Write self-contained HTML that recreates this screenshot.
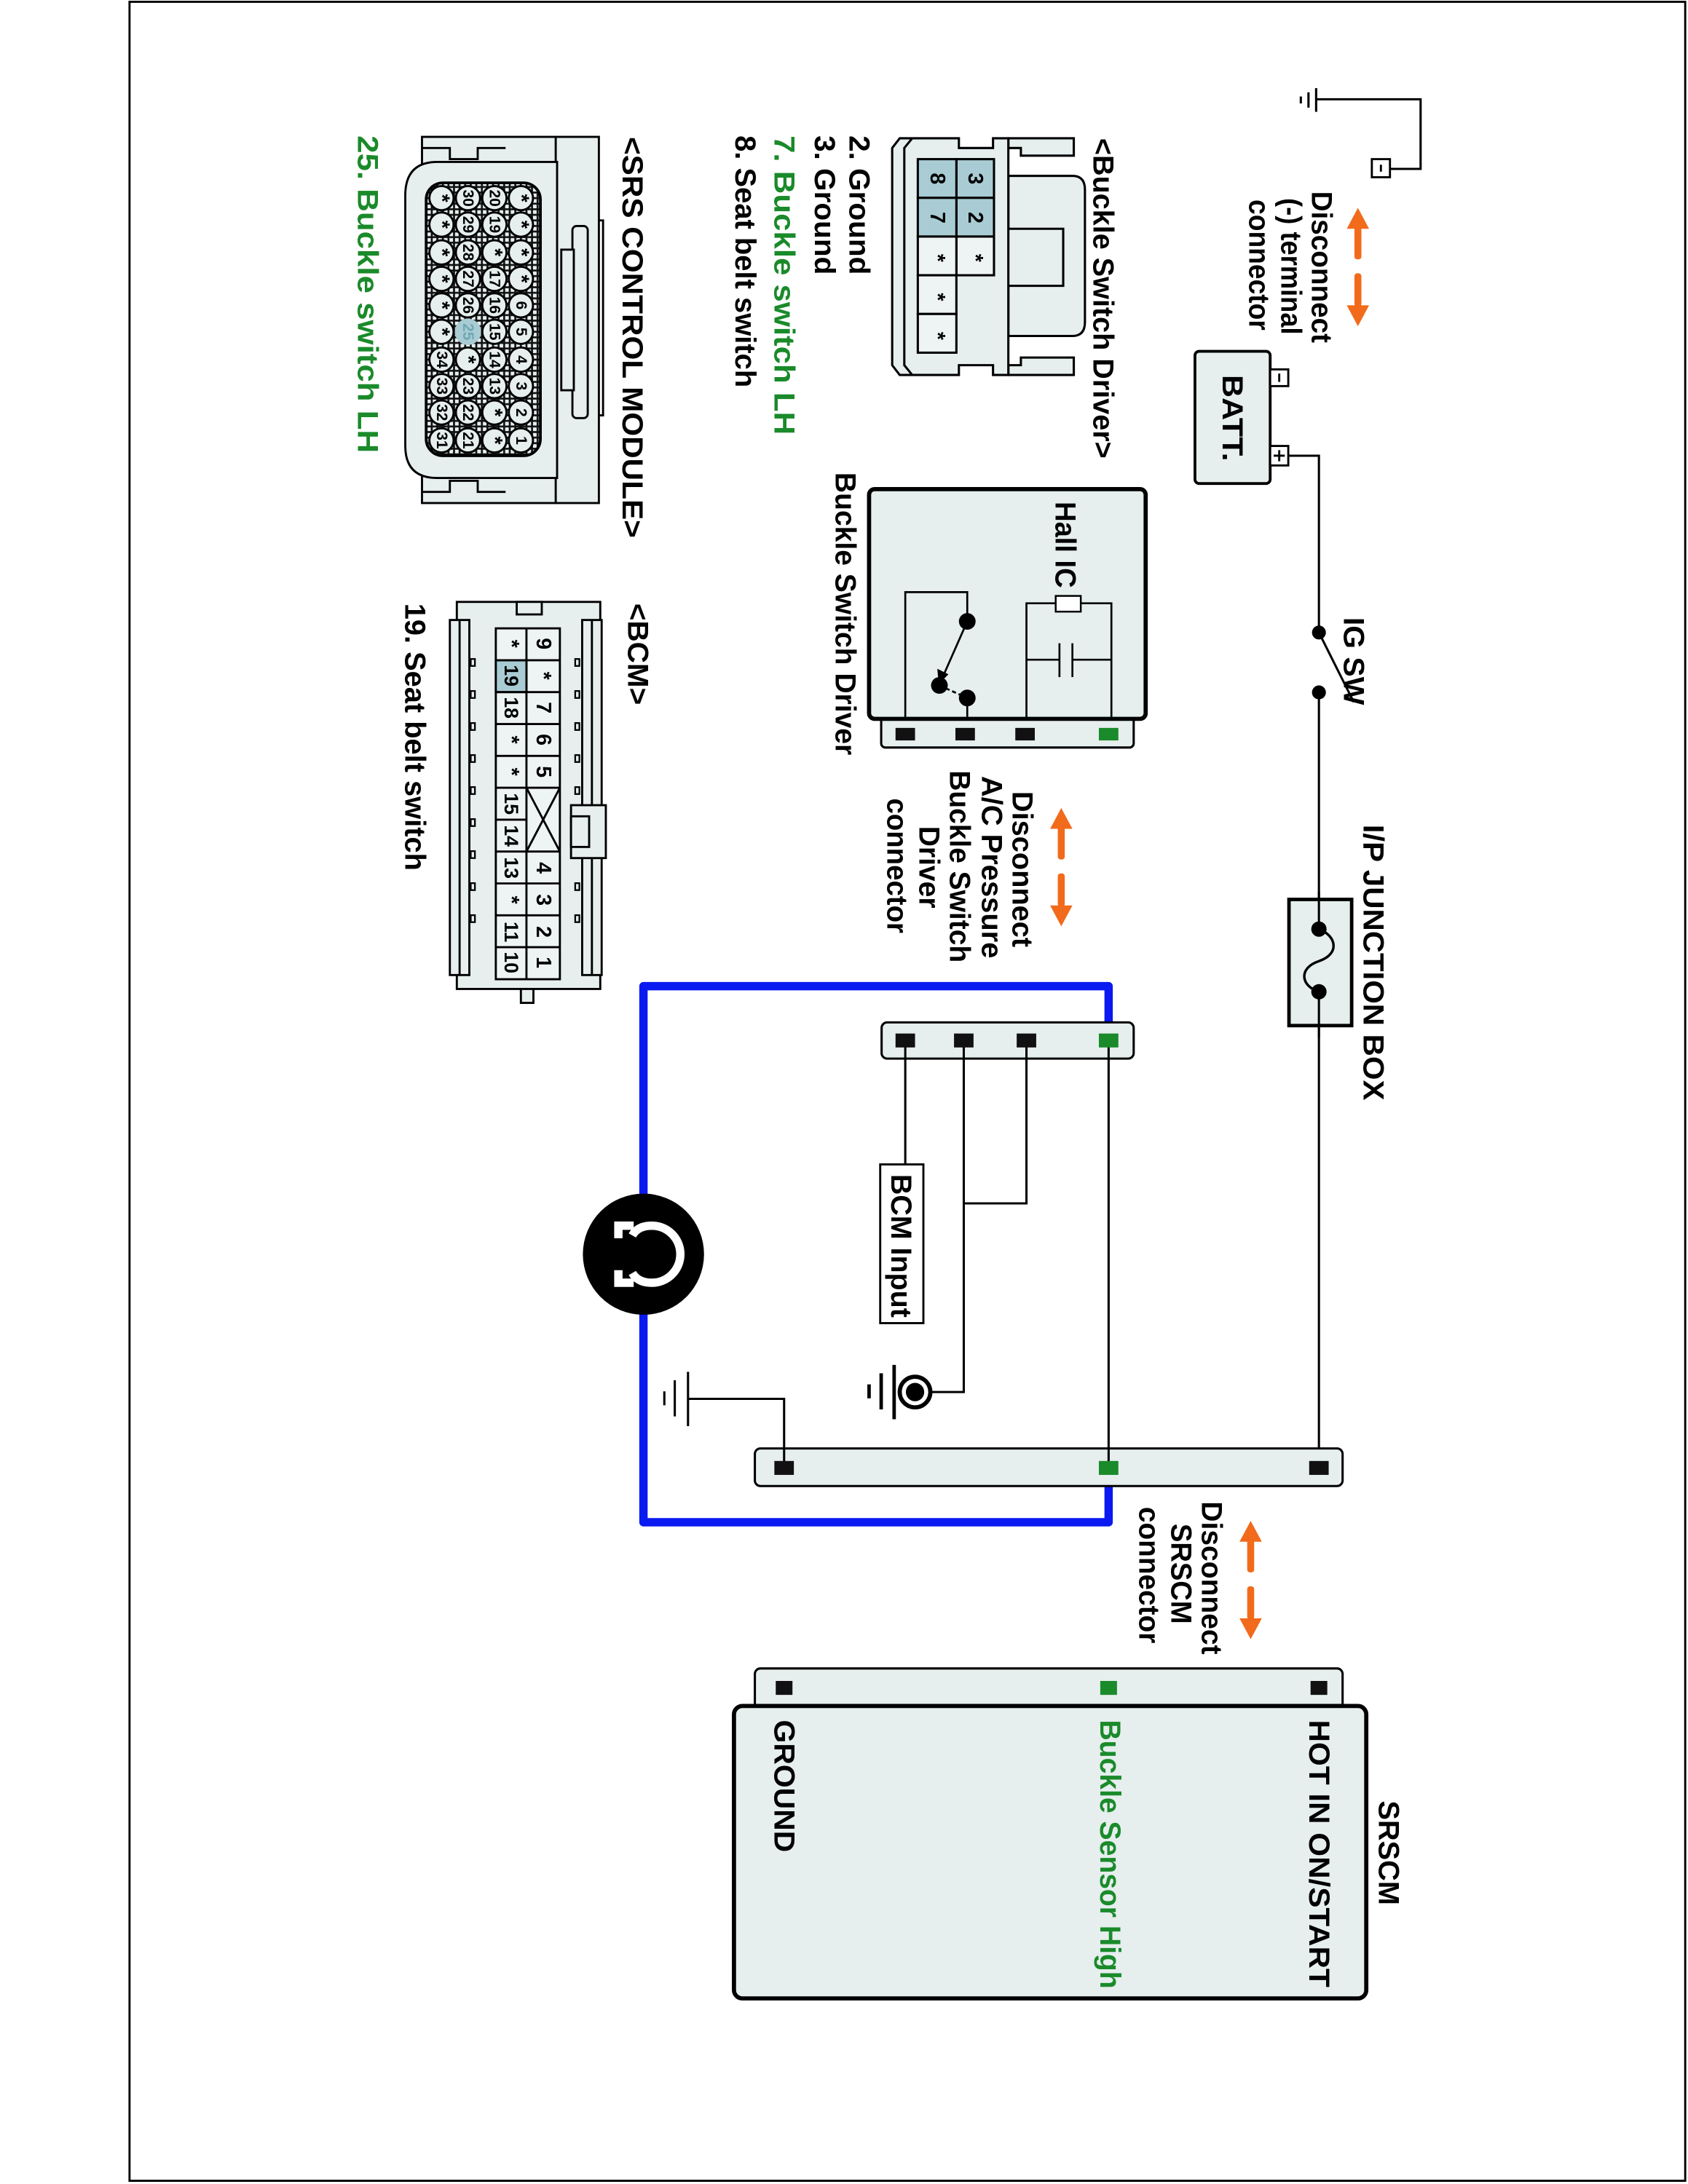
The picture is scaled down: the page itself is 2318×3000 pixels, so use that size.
<!DOCTYPE html>
<html><head><meta charset="utf-8"><style>html,body{margin:0;padding:0;background:#fff}svg{display:block}</style></head>
<body>
<svg xmlns="http://www.w3.org/2000/svg" width="2318" height="3000" viewBox="0 0 1212 1568" font-family="Liberation Sans, Arial, sans-serif" font-weight="bold">
<defs>
<pattern id="hatch" width="4" height="4" patternUnits="userSpaceOnUse">
<rect width="4" height="4" fill="#e6eeee"/>
<path d="M0 2H4M2 0V4" stroke="#111" stroke-width="1.4"/>
</pattern>
</defs>
<rect x="0" y="0" width="1212" height="1568" fill="#fff"/>
<rect x="93" y="1" width="1117" height="1565" fill="none" stroke="#000" stroke-width="1.5"/>

<g stroke="#000" stroke-width="1.6" fill="none">
<line x1="945" y1="63" x2="945" y2="80"/>
<line x1="939.5" y1="66" x2="939.5" y2="77"/>
<line x1="934" y1="69" x2="934" y2="74"/>
<polyline points="945,71 1020,71 1020,121 998,121"/>
</g>
<rect x="985" y="114" width="13" height="13" fill="#fff" stroke="#000" stroke-width="1.5"/>
<line x1="991.5" y1="118" x2="991.5" y2="123" stroke="#000" stroke-width="1.5"/>

<rect x="858" y="252" width="54" height="95" rx="3" fill="#e6eeee" stroke="#000" stroke-width="2"/>
<rect x="912" y="265" width="13" height="12" fill="#fff" stroke="#000" stroke-width="1.5"/>
<line x1="918.5" y1="268" x2="918.5" y2="274" stroke="#000" stroke-width="1.5"/>
<rect x="912" y="320" width="13" height="14" fill="#fff" stroke="#000" stroke-width="1.5"/>
<path d="M918.5 323v8M914.5 327h8" stroke="#000" stroke-width="1.5"/>

<g stroke="#000" stroke-width="1.6" fill="none">
<polyline points="925,327 947,327 947,454"/>
<line x1="947" y1="454" x2="972" y2="504"/>
<line x1="947" y1="497" x2="947" y2="1054"/>
</g>
<circle cx="947" cy="454" r="5" fill="#000"/>
<circle cx="947" cy="497" r="5" fill="#000"/>

<rect x="925.5" y="645.7" width="45" height="90.6" fill="#e6eeee" stroke="#000" stroke-width="2.5"/>
<line x1="947" y1="640" x2="947" y2="745" stroke="#000" stroke-width="1.6"/>
<rect x="944" y="668" width="6" height="43" fill="#e6eeee"/>
<path d="M947 667 C960 672 962 685 947 690 C932 695 934 708 947 712" stroke="#000" stroke-width="1.8" fill="none"/>
<circle cx="947" cy="667" r="5.5" fill="#000"/>
<circle cx="947" cy="712" r="5.5" fill="#000"/>

<rect x="632.7" y="508" width="181.3" height="28.6" rx="3" fill="#e6eeee" stroke="#000" stroke-width="1.6"/>
<rect x="624" y="351" width="198.6" height="165" rx="4" fill="#e6eeee" stroke="#000" stroke-width="3"/>
<g fill="#111"><rect x="643" y="522.5" width="14" height="9"/><rect x="686" y="522.5" width="14" height="9"/><rect x="729" y="522.5" width="14" height="9"/></g>
<rect x="789" y="522.5" width="14" height="9" fill="#1a8a2a"/>
<g stroke="#000" stroke-width="1.4" fill="none">
<polyline points="650,516 650,425 694.5,425 694.5,446"/>
<line x1="694.5" y1="501" x2="694.5" y2="516"/>
<line x1="694.5" y1="446" x2="676" y2="488"/>
<line x1="674.5" y1="492" x2="694.5" y2="501" stroke-dasharray="3,2"/>
<polyline points="737,516 737,433 758,433"/>
<polyline points="776,433 798,433 798,516"/>
<line x1="737" y1="473.5" x2="760.7" y2="473.5"/>
<line x1="770" y1="473.5" x2="798" y2="473.5"/>
<line x1="760.7" y1="461.7" x2="760.7" y2="486"/>
<line x1="770" y1="461.7" x2="770" y2="486"/>
</g>
<polygon points="674,491 673,480 681,484" fill="#000"/>
<circle cx="694.5" cy="446" r="6" fill="#000"/>
<circle cx="674.5" cy="492" r="6" fill="#000"/>
<circle cx="694.5" cy="501" r="6" fill="#000"/>
<rect x="758" y="427.7" width="18" height="11.3" fill="#fff" stroke="#000" stroke-width="1.3"/>

<path d="M796 750 V708 H462 V1093 H796 V1056" stroke="#0a1af0" stroke-width="6" fill="none" stroke-linejoin="round"/>
<rect x="633" y="734" width="181" height="26" rx="4" fill="#e6eeee" stroke="#000" stroke-width="1.6"/>
<rect x="542" y="1040" width="422" height="27" rx="4" fill="#e6eeee" stroke="#000" stroke-width="1.6"/>
<g stroke="#000" stroke-width="1.6" fill="none">
<line x1="796" y1="747" x2="796" y2="1054"/>
<polyline points="737,747 737,864 692,864"/>
<polyline points="692,747 692,999.5 669,999.5"/>
<polyline points="650,747 650,836"/>
<polyline points="563,1054 563,1004.4 494,1004.4"/>
<line x1="494" y1="985" x2="494" y2="1024"/>
<line x1="484.5" y1="991" x2="484.5" y2="1017"/>
<line x1="477" y1="999" x2="477" y2="1009"/>
</g>
<g fill="#111">
<rect x="643" y="742" width="14" height="10"/><rect x="685" y="742" width="14" height="10"/><rect x="730" y="742" width="14" height="10"/>
<rect x="940" y="1049" width="14" height="10"/><rect x="556" y="1049" width="14" height="10"/>
</g>
<rect x="789" y="742" width="14" height="10" fill="#1a8a2a"/>
<rect x="789" y="1049" width="14" height="10" fill="#1a8a2a"/>
<rect x="632" y="836" width="31" height="114" fill="#fff" stroke="#000" stroke-width="1.5"/>
<circle cx="657" cy="999.5" r="11" fill="#fff" stroke="#000" stroke-width="3"/>
<circle cx="657" cy="999.5" r="6.6" fill="#000"/>
<g stroke="#000" stroke-width="2.5">
<line x1="642" y1="980" x2="642" y2="1019"/>
<line x1="632.7" y1="986" x2="632.7" y2="1012"/>
<line x1="624" y1="994" x2="624" y2="1004"/>
</g>
<circle cx="462" cy="900.5" r="43.5" fill="#000"/>
<g fill="none" stroke="#fff" stroke-width="6">
<path d="M454 887 Q458 880 468 880 A20 20 0 0 1 468 921 Q458 921 454 914"/>
<path d="M455 880 H444 V889 M455 921 H444 V912"/>
</g>

<rect x="542" y="1198" width="422" height="30" rx="4" fill="#e6eeee" stroke="#000" stroke-width="1.6"/>
<rect x="527" y="1225" width="454" height="210" rx="6" fill="#e6eeee" stroke="#000" stroke-width="3"/>
<g fill="#111"><rect x="941" y="1207" width="12" height="10"/><rect x="557" y="1207" width="12" height="10"/></g>
<rect x="790" y="1207" width="12" height="10" fill="#1a8a2a"/>

<g fill="#f26a1b">
<polygon points="975,149 967,164 983,164"/><rect x="972.5" y="162" width="5" height="24" rx="2"/><rect x="972.5" y="196" width="5" height="24" rx="2"/><polygon points="975,234 967,219 983,219"/>
<polygon points="762,580 754,595 770,595"/><rect x="759.5" y="593" width="5" height="24" rx="2"/><rect x="759.5" y="627" width="5" height="24" rx="2"/><polygon points="762,665 754,650 770,650"/>
<polygon points="898,1092 890,1107 906,1107"/><rect x="895.5" y="1105" width="5" height="24" rx="2"/><rect x="895.5" y="1139" width="5" height="24" rx="2"/><polygon points="898,1177 890,1162 906,1162"/>
</g>

<g stroke="#000" stroke-width="1.6" fill="#e6eeee">
<path d="M724 99 H771 V111.5 H733 V106 H724 Z"/>
<path d="M724 269 H771 V256.5 H733 V262 H724 Z"/>
<path d="M724 126 H770 Q779 126 779 136 V231 Q779 241 770 241 H724 Z"/>
<path d="M724 164 H763.4 V205 H724"/>
<path d="M646 99 H688.5 V106 H713 V99 H724 V269 H713 V262 H688.5 V269 H646 L640.6 262 V106 Z"/>
<path d="M655 99 L649.3 106 V262 L655 269" fill="none"/>
</g>
<g stroke="#000" stroke-width="1.6">
<rect x="686.7" y="114" width="27" height="27.8" fill="#a9ccd4"/>
<rect x="686.7" y="141.8" width="27" height="27.8" fill="#a9ccd4"/>
<rect x="686.7" y="169.6" width="27" height="27.8" fill="#eef3f3"/>
<rect x="659" y="114" width="27.7" height="27.8" fill="#a9ccd4"/>
<rect x="659" y="141.8" width="27.7" height="27.8" fill="#a9ccd4"/>
<rect x="659" y="169.6" width="27.7" height="27.8" fill="#eef3f3"/>
<rect x="659" y="197.4" width="27.7" height="27.8" fill="#eef3f3"/>
<rect x="659" y="225.2" width="27.7" height="27.8" fill="#eef3f3"/>
</g>
<g font-size="15" text-anchor="middle" dominant-baseline="central" fill="#000">
<text transform="translate(700,128) rotate(90)">3</text>
<text transform="translate(700,156) rotate(90)">2</text>
<text transform="translate(700,185) rotate(90)">*</text>
<text transform="translate(673,128) rotate(90)">8</text>
<text transform="translate(673,156) rotate(90)">7</text>
<text transform="translate(673,185) rotate(90)">*</text>
<text transform="translate(673,213) rotate(90)">*</text>
<text transform="translate(673,241) rotate(90)">*</text>
</g>

<g stroke="#000" stroke-width="1.5" fill="#e6eeee">
<rect x="399" y="98" width="31" height="263"/>
<path d="M430 158 h3 v140 h-3" fill="none"/>
<rect x="303" y="98" width="96" height="263"/>
<path d="M314 116 H400 V343 H314 Q291 343 291 320 V140 Q291 116 314 116 Z"/>
<rect x="411" y="162" width="11" height="138" rx="3"/>
<rect x="403" y="179" width="9" height="101"/>
<rect x="306" y="131" width="82" height="196" rx="12" fill="url(#hatch)" stroke-width="2"/>
<path d="M303 106 h20 v8 h20 v-8 h20 M303 353 h20 v-8 h20 v8 h20" fill="none"/>
</g>
<g stroke="#000" stroke-width="1.5" fill="#e6eeee">
<circle cx="374" cy="142" r="8.7"/><circle cx="374" cy="161" r="8.7"/><circle cx="374" cy="181" r="8.7"/><circle cx="374" cy="200" r="8.7"/><circle cx="374" cy="219" r="8.7"/><circle cx="374" cy="238" r="8.7"/><circle cx="374" cy="258" r="8.7"/><circle cx="374" cy="277" r="8.7"/><circle cx="374" cy="296" r="8.7"/><circle cx="374" cy="316" r="8.7"/>
<circle cx="355" cy="142" r="8.7"/><circle cx="355" cy="161" r="8.7"/><circle cx="355" cy="181" r="8.7"/><circle cx="355" cy="200" r="8.7"/><circle cx="355" cy="219" r="8.7"/><circle cx="355" cy="238" r="8.7"/><circle cx="355" cy="258" r="8.7"/><circle cx="355" cy="277" r="8.7"/><circle cx="355" cy="296" r="8.7"/><circle cx="355" cy="316" r="8.7"/>
<circle cx="336" cy="142" r="8.7"/><circle cx="336" cy="161" r="8.7"/><circle cx="336" cy="181" r="8.7"/><circle cx="336" cy="200" r="8.7"/><circle cx="336" cy="219" r="8.7"/><circle cx="336" cy="238" r="8.7" fill="#a9ccd4" stroke="#a9ccd4"/><circle cx="336" cy="258" r="8.7"/><circle cx="336" cy="277" r="8.7"/><circle cx="336" cy="296" r="8.7"/><circle cx="336" cy="316" r="8.7"/>
<circle cx="317" cy="142" r="8.7"/><circle cx="317" cy="161" r="8.7"/><circle cx="317" cy="181" r="8.7"/><circle cx="317" cy="200" r="8.7"/><circle cx="317" cy="219" r="8.7"/><circle cx="317" cy="238" r="8.7"/><circle cx="317" cy="258" r="8.7"/><circle cx="317" cy="277" r="8.7"/><circle cx="317" cy="296" r="8.7"/><circle cx="317" cy="316" r="8.7"/>
</g>
<g font-size="11" text-anchor="middle" dominant-baseline="central" fill="#000">
<text transform="translate(374,142) rotate(90)" font-size="15">*</text><text transform="translate(374,161) rotate(90)" font-size="15">*</text><text transform="translate(374,181) rotate(90)" font-size="15">*</text><text transform="translate(374,200) rotate(90)" font-size="15">*</text><text transform="translate(374,219) rotate(90)">6</text><text transform="translate(374,238) rotate(90)">5</text><text transform="translate(374,258) rotate(90)">4</text><text transform="translate(374,277) rotate(90)">3</text><text transform="translate(374,296) rotate(90)">2</text><text transform="translate(374,316) rotate(90)">1</text>
<text transform="translate(355,142) rotate(90)">20</text><text transform="translate(355,161) rotate(90)">19</text><text transform="translate(355,181) rotate(90)" font-size="15">*</text><text transform="translate(355,200) rotate(90)">17</text><text transform="translate(355,219) rotate(90)">16</text><text transform="translate(355,238) rotate(90)">15</text><text transform="translate(355,258) rotate(90)">14</text><text transform="translate(355,277) rotate(90)">13</text><text transform="translate(355,296) rotate(90)" font-size="15">*</text><text transform="translate(355,316) rotate(90)" font-size="15">*</text>
<text transform="translate(336,142) rotate(90)">30</text><text transform="translate(336,161) rotate(90)">29</text><text transform="translate(336,181) rotate(90)">28</text><text transform="translate(336,200) rotate(90)">27</text><text transform="translate(336,219) rotate(90)">26</text><text transform="translate(336,238) rotate(90)" fill="#6fa8b4">25</text><text transform="translate(336,258) rotate(90)" font-size="15">*</text><text transform="translate(336,277) rotate(90)">23</text><text transform="translate(336,296) rotate(90)">22</text><text transform="translate(336,316) rotate(90)">21</text>
<text transform="translate(317,142) rotate(90)" font-size="15">*</text><text transform="translate(317,161) rotate(90)" font-size="15">*</text><text transform="translate(317,181) rotate(90)" font-size="15">*</text><text transform="translate(317,200) rotate(90)" font-size="15">*</text><text transform="translate(317,219) rotate(90)" font-size="15">*</text><text transform="translate(317,238) rotate(90)" font-size="15">*</text><text transform="translate(317,258) rotate(90)">34</text><text transform="translate(317,277) rotate(90)">33</text><text transform="translate(317,296) rotate(90)">32</text><text transform="translate(317,316) rotate(90)">31</text>
</g>

<g stroke="#000" stroke-width="1.5" fill="#e6eeee">
<rect x="328" y="432" width="103" height="278"/>
<rect x="374" y="710" width="9" height="10"/>
<rect x="371" y="432" width="18" height="9"/>
<rect x="323" y="445" width="14" height="255"/>
<line x1="330" y1="445" x2="330" y2="700"/>
<rect x="418" y="445" width="14" height="255"/>
<line x1="425" y1="445" x2="425" y2="700"/>
<rect x="410" y="578" width="25" height="38"/>
<rect x="410" y="586" width="13" height="22"/>
</g>
<g fill="#e6eeee" stroke="#000" stroke-width="1.2">
<rect x="338" y="473" width="3" height="5"/><rect x="338" y="496" width="3" height="5"/><rect x="338" y="519" width="3" height="5"/><rect x="338" y="542" width="3" height="5"/><rect x="338" y="565" width="3" height="5"/><rect x="338" y="588" width="3" height="5"/><rect x="338" y="611" width="3" height="5"/><rect x="338" y="634" width="3" height="5"/><rect x="338" y="657" width="3" height="5"/>
<rect x="413" y="473" width="3" height="5"/><rect x="413" y="496" width="3" height="5"/><rect x="413" y="519" width="3" height="5"/><rect x="413" y="542" width="3" height="5"/><rect x="413" y="565" width="3" height="5"/><rect x="413" y="634" width="3" height="5"/><rect x="413" y="657" width="3" height="5"/>
</g>
<g stroke="#000" stroke-width="1.5" fill="#eef3f3">
<rect x="356" y="451" width="46" height="252"/>
<rect x="356" y="473.9" width="22" height="22.9" fill="#a9ccd4"/>
<line x1="378" y1="451" x2="378" y2="703"/>
<line x1="356" y1="473.9" x2="402" y2="473.9"/><line x1="356" y1="496.8" x2="402" y2="496.8"/><line x1="356" y1="519.7" x2="402" y2="519.7"/><line x1="356" y1="542.6" x2="402" y2="542.6"/><line x1="356" y1="565.5" x2="402" y2="565.5"/><line x1="356" y1="588.4" x2="378" y2="588.4"/><line x1="356" y1="611.3" x2="402" y2="611.3"/><line x1="356" y1="634.2" x2="402" y2="634.2"/><line x1="356" y1="657.1" x2="402" y2="657.1"/><line x1="356" y1="680" x2="402" y2="680"/>
<line x1="378" y1="565.5" x2="402" y2="611.3"/><line x1="402" y1="565.5" x2="378" y2="611.3"/>
</g>
<g font-size="15" text-anchor="middle" dominant-baseline="central" fill="#000">
<text transform="translate(390,462) rotate(90)">9</text><text transform="translate(390,485) rotate(90)">*</text><text transform="translate(390,508) rotate(90)">7</text><text transform="translate(390,531) rotate(90)">6</text><text transform="translate(390,554) rotate(90)">5</text><text transform="translate(390,623) rotate(90)">4</text><text transform="translate(390,646) rotate(90)">3</text><text transform="translate(390,669) rotate(90)">2</text><text transform="translate(390,691) rotate(90)">1</text>
<text transform="translate(367,462) rotate(90)">*</text><text transform="translate(367,485) rotate(90)" font-size="14">19</text><text transform="translate(367,508) rotate(90)" font-size="14">18</text><text transform="translate(367,531) rotate(90)">*</text><text transform="translate(367,554) rotate(90)">*</text><text transform="translate(367,577) rotate(90)" font-size="14">15</text><text transform="translate(367,600) rotate(90)" font-size="14">14</text><text transform="translate(367,623) rotate(90)" font-size="14">13</text><text transform="translate(367,646) rotate(90)">*</text><text transform="translate(367,669) rotate(90)" font-size="14">11</text><text transform="translate(367,691) rotate(90)" font-size="14">10</text>
</g>

<g font-size="21" fill="#000">
<text transform="translate(942,137) rotate(90)" textLength="109" lengthAdjust="spacingAndGlyphs">Disconnect</text>
<text transform="translate(920,142) rotate(90)" textLength="98" lengthAdjust="spacingAndGlyphs">(-) terminal</text>
<text transform="translate(897,143) rotate(90)" textLength="94" lengthAdjust="spacingAndGlyphs">connector</text>
<text transform="translate(878,269) rotate(90)" textLength="62" lengthAdjust="spacingAndGlyphs">BATT.</text>
<text transform="translate(965,443) rotate(90)" textLength="63" lengthAdjust="spacingAndGlyphs">IG SW</text>
<text transform="translate(979,592) rotate(90)" textLength="198" lengthAdjust="spacingAndGlyphs">I/P JUNCTION BOX</text>
<text transform="translate(785,99) rotate(90)" textLength="230" lengthAdjust="spacingAndGlyphs">&lt;Buckle Switch Driver&gt;</text>
<text transform="translate(610,97) rotate(90)" textLength="100" lengthAdjust="spacingAndGlyphs">2. Ground</text>
<text transform="translate(585,97) rotate(90)" textLength="100" lengthAdjust="spacingAndGlyphs">3. Ground</text>
<text transform="translate(556,97) rotate(90)" textLength="215" lengthAdjust="spacingAndGlyphs" fill="#1a8a2a">7. Buckle switch LH</text>
<text transform="translate(528,97) rotate(90)" textLength="181" lengthAdjust="spacingAndGlyphs">8. Seat belt switch</text>
<text transform="translate(758,360) rotate(90)" textLength="62" lengthAdjust="spacingAndGlyphs">Hall IC</text>
<text transform="translate(600,339) rotate(90)" textLength="203" lengthAdjust="spacingAndGlyphs">Buckle Switch Driver</text>
<text transform="translate(727,568) rotate(90)" textLength="112" lengthAdjust="spacingAndGlyphs">Disconnect</text>
<text transform="translate(705,557) rotate(90)" textLength="131" lengthAdjust="spacingAndGlyphs">A/C Pressure</text>
<text transform="translate(682,553) rotate(90)" textLength="138" lengthAdjust="spacingAndGlyphs">Buckle Switch</text>
<text transform="translate(660,593) rotate(90)" textLength="59" lengthAdjust="spacingAndGlyphs">Driver</text>
<text transform="translate(637,573) rotate(90)" textLength="97" lengthAdjust="spacingAndGlyphs">connector</text>
<text transform="translate(447,98) rotate(90)" textLength="288" lengthAdjust="spacingAndGlyphs">&lt;SRS CONTROL MODULE&gt;</text>
<text transform="translate(257,97) rotate(90)" textLength="228" lengthAdjust="spacingAndGlyphs" fill="#1a8a2a">25. Buckle switch LH</text>
<text transform="translate(451,433) rotate(90)" textLength="73" lengthAdjust="spacingAndGlyphs">&lt;BCM&gt;</text>
<text transform="translate(291,433) rotate(90)" textLength="192" lengthAdjust="spacingAndGlyphs">19. Seat belt switch</text>
<text transform="translate(640,843) rotate(90)" textLength="103" lengthAdjust="spacingAndGlyphs">BCM Input</text>
<text transform="translate(863,1078) rotate(90)" textLength="110" lengthAdjust="spacingAndGlyphs">Disconnect</text>
<text transform="translate(841,1094) rotate(90)" textLength="72" lengthAdjust="spacingAndGlyphs">SRSCM</text>
<text transform="translate(818,1082) rotate(90)" textLength="98" lengthAdjust="spacingAndGlyphs">connector</text>
<text transform="translate(990,1293) rotate(90)" textLength="75" lengthAdjust="spacingAndGlyphs">SRSCM</text>
<text transform="translate(940,1235) rotate(90)" textLength="192" lengthAdjust="spacingAndGlyphs">HOT IN ON/START</text>
<text transform="translate(790,1235) rotate(90)" textLength="193" lengthAdjust="spacingAndGlyphs" fill="#1a8a2a">Buckle Sensor High</text>
<text transform="translate(556,1235) rotate(90)" textLength="95" lengthAdjust="spacingAndGlyphs">GROUND</text>
</g>
</svg>
</body></html>
